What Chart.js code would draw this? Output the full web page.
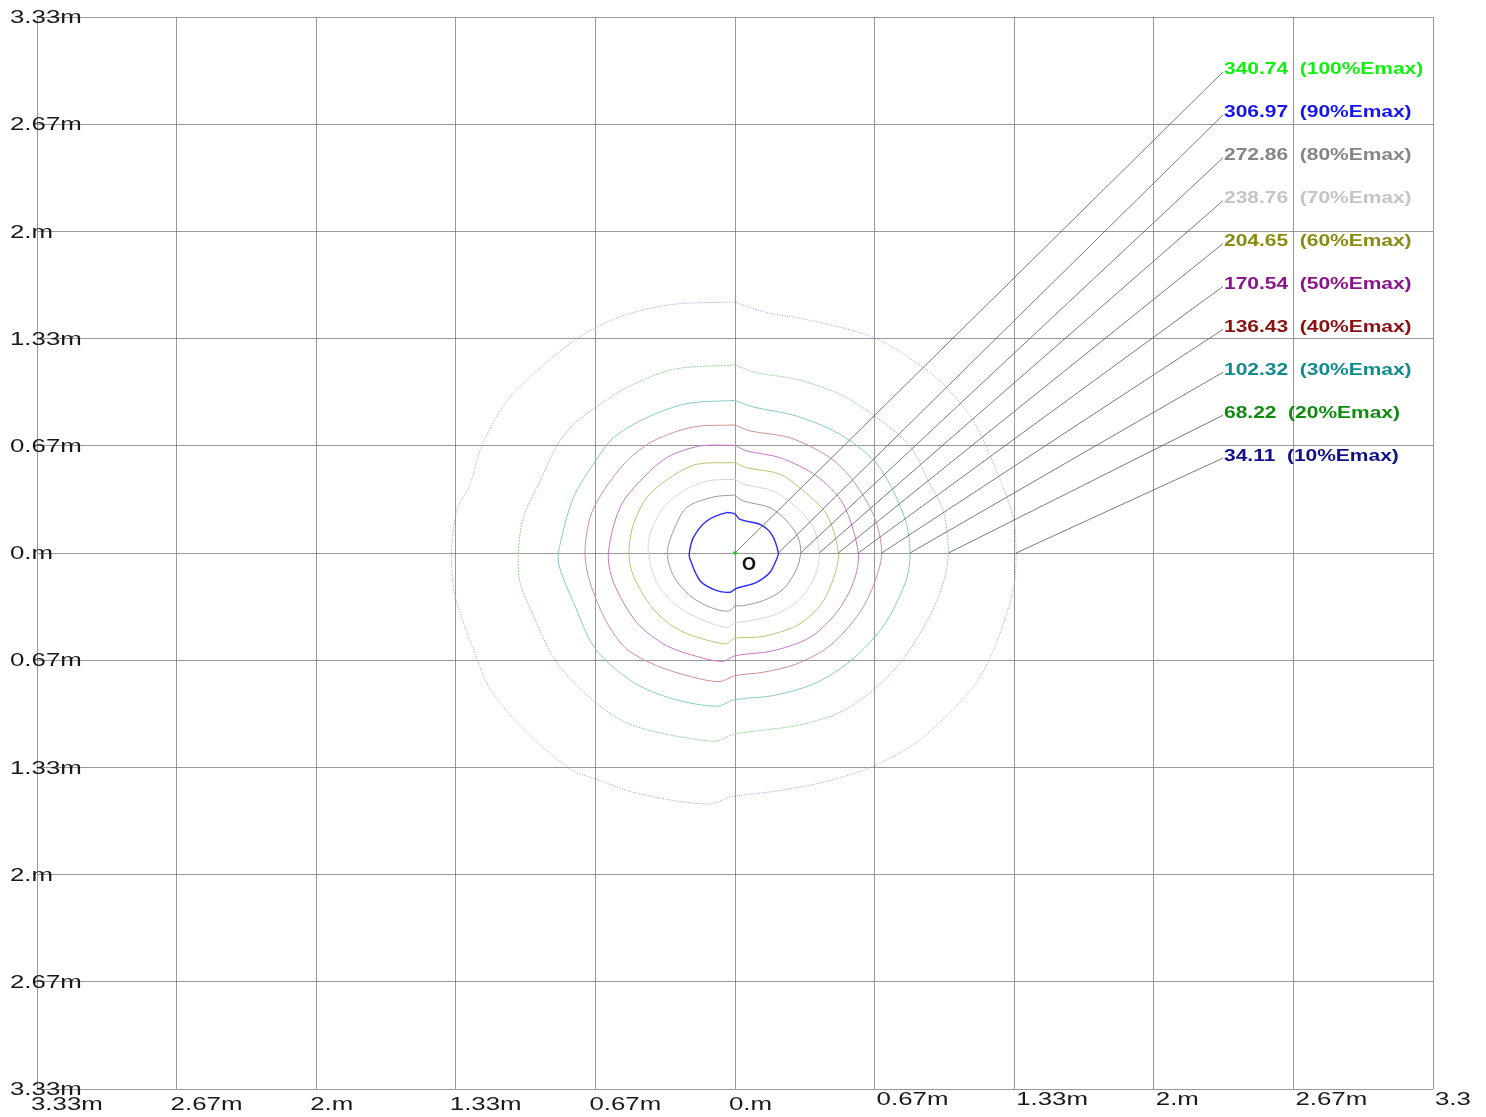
<!DOCTYPE html>
<html>
<head>
<meta charset="utf-8">
<title>Isolux contours</title>
<script src="https://cdn.jsdelivr.net/npm/chart.js@4.4.1/dist/chart.umd.min.js"></script>
<style>
    html, body { margin: 0; padding: 0; background: #fff; }
    #wrap { width: 1486px; height: 1117px; position: relative; }
</style>
</head>
<body>
<div id="wrap"><canvas id="chart"></canvas></div>
<script>
// Grid ticks in metres and the labels printed next to them
const tickValues = [-3.33, -2.664, -1.998, -1.332, -0.666, 0, 0.666, 1.332, 1.998, 2.664, 3.33];
const xTickLabels = ['3.33m', '2.67m', '2.m', '1.33m', '0.67m', '0.m', '0.67m', '1.33m', '2.m', '2.67m', '3.3'];
const yTickLabels = ['3.33m', '2.67m', '2.m', '1.33m', '0.67m', '0.m', '0.67m', '1.33m', '2.m', '2.67m', '3.33m'];

// Illuminance levels (lux), from the peak down
const levelPercent = [100, 90, 80, 70, 60, 50, 40, 30, 20, 10];
const levelValues = ['340.74', '306.97', '272.86', '238.76', '204.65', '170.54', '136.43', '102.32', '68.22', '34.11'];

// Contour outlines, [x, y] in metres
const peakPoint = [[0, 0]];
const contour90 = [[0, 0.244], [-0.040, 0.251], [-0.135, 0.199], [-0.199, 0.095], [-0.218, 0],
    [-0.215, -0.037], [-0.167, -0.172], [-0.087, -0.234], [-0.024, -0.244], [0, -0.224],
    [0.024, -0.213], [0.103, -0.182], [0.167, -0.120], [0.199, -0.037], [0.207, 0],
    [0.175, 0.116], [0.119, 0.178], [0.024, 0.209], [0, 0.244]];
const contour80 = [[0, 0.360], [-0.103, 0.348], [-0.231, 0.282], [-0.294, 0.137], [-0.323, 0],
    [-0.294, -0.141], [-0.215, -0.265], [-0.119, -0.337], [-0.032, -0.362], [0, -0.331],
    [0.040, -0.327], [0.135, -0.296], [0.231, -0.224], [0.294, -0.099], [0.313, 0],
    [0.302, 0.095], [0.247, 0.199], [0.167, 0.282], [0.040, 0.323], [0, 0.360]];
const contour70 = [[0, 0.458], [-0.135, 0.447], [-0.247, 0.385], [-0.342, 0.282], [-0.406, 0.116], [-0.413, 0],
    [-0.374, -0.182], [-0.278, -0.327], [-0.167, -0.410], [-0.040, -0.462], [0, -0.435],
    [0.072, -0.420], [0.199, -0.379], [0.310, -0.286], [0.382, -0.141], [0.402, 0],
    [0.374, 0.157], [0.294, 0.282], [0.183, 0.385], [0.040, 0.427], [0, 0.458]];
const contour60 = [[0, 0.561], [-0.183, 0.551], [-0.310, 0.468], [-0.421, 0.344], [-0.485, 0.178], [-0.506, 0],
    [-0.485, -0.141], [-0.390, -0.348], [-0.262, -0.482], [-0.048, -0.565], [0, -0.530],
    [0.135, -0.518], [0.294, -0.451], [0.406, -0.327], [0.469, -0.161], [0.493, 0],
    [0.437, 0.240], [0.326, 0.385], [0.215, 0.489], [0.056, 0.530], [0, 0.561]];
const contour50 = [[0, 0.669], [-0.167, 0.665], [-0.326, 0.592], [-0.453, 0.447], [-0.549, 0.282], [-0.604, 0],
    [-0.580, -0.182], [-0.469, -0.431], [-0.326, -0.576], [-0.167, -0.648], [-0.056, -0.673], [0, -0.638],
    [0.183, -0.607], [0.358, -0.524], [0.485, -0.369], [0.565, -0.182], [0.588, 0],
    [0.517, 0.302], [0.390, 0.478], [0.215, 0.592], [0.056, 0.634], [0, 0.669]];
const contour40 = [[0, 0.795], [-0.199, 0.783], [-0.390, 0.696], [-0.517, 0.571], [-0.628, 0.385], [-0.692, 0.219], [-0.716, 0],
    [-0.692, -0.182], [-0.612, -0.431], [-0.517, -0.596], [-0.374, -0.700], [-0.199, -0.772], [-0.072, -0.799], [0, -0.762],
    [0.135, -0.741], [0.294, -0.689], [0.453, -0.576], [0.596, -0.369], [0.666, -0.182], [0.700, 0],
    [0.666, 0.219], [0.565, 0.447], [0.453, 0.592], [0.262, 0.716], [0.072, 0.758], [0, 0.795]];
const contour30 = [[0, 0.948], [-0.231, 0.928], [-0.421, 0.841], [-0.580, 0.716], [-0.666, 0.571], [-0.771, 0.344], [-0.843, 0],
    [-0.835, -0.099], [-0.771, -0.306], [-0.666, -0.596], [-0.485, -0.803], [-0.294, -0.907], [-0.087, -0.952], [0, -0.911],
    [0.183, -0.886], [0.374, -0.814], [0.533, -0.689], [0.666, -0.524], [0.739, -0.389], [0.819, -0.161], [0.835, 0],
    [0.819, 0.178], [0.755, 0.385], [0.666, 0.571], [0.501, 0.737], [0.294, 0.851], [0.087, 0.907], [0, 0.948]];
const contour20 = [[0, 1.168], [-0.294, 1.141], [-0.517, 1.027], [-0.666, 0.903], [-0.771, 0.799], [-0.851, 0.663], [-0.930, 0.447], [-1.010, 0.219], [-1.034, 0],
    [-1.026, -0.182], [-0.962, -0.389], [-0.851, -0.679], [-0.666, -0.928], [-0.485, -1.072], [-0.103, -1.170], [0, -1.124],
    [0.294, -1.072], [0.501, -0.990], [0.666, -0.845], [0.803, -0.658], [0.930, -0.389], [0.994, -0.182], [1.018, 0],
    [0.994, 0.261], [0.930, 0.427], [0.835, 0.663], [0.666, 0.851], [0.501, 0.986], [0.294, 1.079], [0.103, 1.120], [0, 1.168]];
const contour10 = [[0, 1.559], [-0.294, 1.545], [-0.517, 1.482], [-0.666, 1.400], [-0.771, 1.317], [-0.930, 1.151], [-1.089, 0.944], [-1.209, 0.663], [-1.264, 0.427], [-1.328, 0.261], [-1.352, 0],
    [-1.336, -0.265], [-1.248, -0.596], [-1.169, -0.845], [-1.010, -1.093], [-0.787, -1.342], [-0.666, -1.404], [-0.453, -1.497], [-0.135, -1.559], [0, -1.511],
    [0.215, -1.476], [0.453, -1.414], [0.666, -1.321], [0.867, -1.176], [1.010, -1.010], [1.153, -0.803], [1.248, -0.555], [1.328, -0.224], [1.341, 0],
    [1.328, 0.219], [1.248, 0.509], [1.137, 0.820], [1.010, 1.027], [0.899, 1.151], [0.666, 1.337], [0.374, 1.441], [0.135, 1.499], [0, 1.559]];

const contours = [peakPoint, contour90, contour80, contour70, contour60, contour50, contour40, contour30, contour20, contour10];

// Colours: label colour per level and the paler line drawn for it
const LABEL_COLORS = ['#10f010', '#1414f0', '#858585', '#c4c4c4', '#8a8a10', '#8a148a', '#8a1010', '#108a8a', '#108a10', '#10108a'];
const LINE_COLORS = ['#30d030', '#2a2aff', '#9a9a9a', '#d6d6d6', '#c0c070', '#c878c8', '#d09090', '#88caca', '#98d298', '#9c9ce0'];
const LINE_DASH = [[], [], [], [], [], [], [], [], [2, 1], [1, 1.5]];

const GRID_COLOR = 'rgba(110, 110, 110, 0.7)';
const AXIS_FONT = '19px "Liberation Sans", Arial, sans-serif';
const TEXT_STRETCH = 1.36;

function stretchedText(ctx, text, x, y, font, color, stretch) {
    ctx.save();
    ctx.translate(x, y);
    ctx.scale(stretch, 1);
    ctx.font = font;
    ctx.fillStyle = color;
    ctx.textAlign = 'left';
    ctx.textBaseline = 'middle';
    ctx.fillText(text, 0, 0);
    ctx.restore();
}

// Tick labels, leader lines and level labels
const annotations = {
    id: 'isoluxAnnotations',
    afterDraw(chart) {
        const ctx = chart.ctx;
        const xs = chart.scales.x;
        const ys = chart.scales.y;
        const area = chart.chartArea;

        // y axis labels, left aligned over the plot edge
        tickValues.forEach((v, i) => {
            const label = yTickLabels[tickValues.length - 1 - i];
            stretchedText(ctx, label, 10, ys.getPixelForValue(v) + 1, AXIS_FONT, '#1a1a1a', TEXT_STRETCH);
        });
        // x axis labels, the positive side sits a little higher
        tickValues.forEach((v, i) => {
            const px = xs.getPixelForValue(v);
            const right = v > 0;
            stretchedText(ctx, xTickLabels[i], px + (right ? 2 : -6), area.bottom + (right ? 11 : 16),
                AXIS_FONT, '#1a1a1a', TEXT_STRETCH);
        });

        // leader lines from each contour's crossing of the +x axis
        const labelX = area.left + 1187;
        ctx.save();
        ctx.strokeStyle = 'rgba(100, 100, 100, 0.85)';
        ctx.lineWidth = 1;
        contours.forEach((pts, i) => {
            const onAxis = pts.filter(p => p[1] === 0 && p[0] >= 0);
            const cross = Math.max(...onAxis.map(p => p[0]));
            const ly = area.top + 53 + i * 42.9;
            ctx.beginPath();
            ctx.moveTo(xs.getPixelForValue(cross), ys.getPixelForValue(0));
            ctx.lineTo(labelX - 1, ly + 2);
            ctx.stroke();
        });
        ctx.restore();

        levelValues.forEach((val, i) => {
            const ly = area.top + 53 + i * 42.9;
            stretchedText(ctx, `${val}  (${levelPercent[i]}%Emax)`, labelX, ly,
                'bold 16px "Liberation Sans", Arial, sans-serif', LABEL_COLORS[i], 1.31);
        });

        // origin marker
        stretchedText(ctx, 'O', xs.getPixelForValue(0) + 7, ys.getPixelForValue(0) + 12,
            'bold 18px "Liberation Sans", Arial, sans-serif', '#111', 1.0);
    }
};

const datasets = contours.map((pts, i) => ({
    label: `${levelPercent[i]}%Emax`,
    data: pts.map(p => ({ x: p[0], y: p[1] })),
    showLine: true,
    borderColor: LINE_COLORS[i],
    backgroundColor: LINE_COLORS[i],
    borderWidth: i === 1 ? 1.4 : 1,
    borderDash: LINE_DASH[i],
    pointRadius: i === 0 ? 1.5 : 0,
    fill: false,
    tension: 0.3
}));

function axisOptions() {
    return {
        type: 'linear',
        min: -3.33,
        max: 3.33,
        afterBuildTicks: scale => {
            scale.ticks = tickValues.map(v => ({ value: v }));
        },
        ticks: { display: false },
        border: { display: false },
        grid: {
            color: GRID_COLOR,
            lineWidth: 1,
            drawTicks: false
        }
    };
}

new Chart(document.getElementById('chart'), {
    type: 'scatter',
    data: { datasets },
    options: {
        responsive: true,
        maintainAspectRatio: false,
        animation: false,
        layout: {
            padding: { left: 37, right: 53, top: 17, bottom: 28 }
        },
        scales: {
            x: axisOptions(),
            y: axisOptions()
        },
        plugins: {
            legend: { display: false },
            tooltip: { enabled: false }
        }
    },
    plugins: [annotations]
});
</script>
</body>
</html>
